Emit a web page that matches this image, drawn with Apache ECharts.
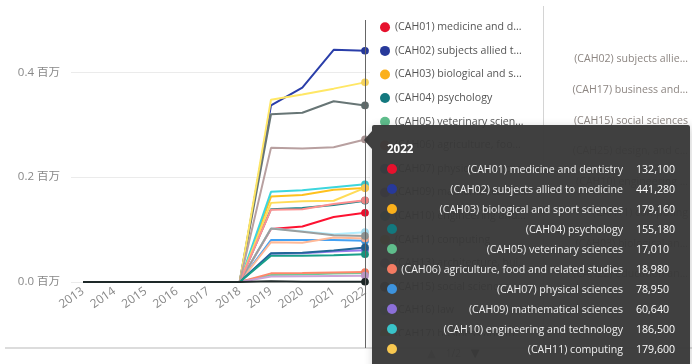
<!DOCTYPE html>
<html><head><meta charset="utf-8">
<script src="https://cdn.jsdelivr.net/npm/echarts@6/dist/echarts.min.js"></script>
<style>html,body{margin:0;padding:0;overflow:hidden;background:#fff}#c{width:692px;height:364px;overflow:hidden;position:relative}</style>
</head><body><div id="c"></div>
<script>
// ---------- data ----------
const years = ['2013','2014','2015','2016','2017','2018','2019','2020','2021','2022'];
const names = [
  '(CAH01) medicine and dentistry',
  '(CAH02) subjects allied to medicine',
  '(CAH03) biological and sport sciences',
  '(CAH04) psychology',
  '(CAH05) veterinary sciences',
  '(CAH06) agriculture, food and related studies',
  '(CAH07) physical sciences',
  '(CAH09) mathematical sciences',
  '(CAH10) engineering and technology',
  '(CAH11) computing',
  '(CAH13) architecture, building and planning',
  '(CAH15) social sciences',
  '(CAH16) law',
  '(CAH17) business and management',
  '(CAH19) language and area studies',
  '(CAH20) historical, philosophical and religious studies',
  '(CAH22) education and teaching',
  '(CAH23) combined and general studies',
  '(CAH24) media, journalism and communications',
  '(CAH25) design, and creative and performing arts',
  '(CAH26) geography, earth and environmental studies'
];
const cah01 = [0,0,0,0,0,0,101000,106000,124000,132100];
const cah02 = [0,0,0,0,0,0,337000,371000,443000,441280];
const cah03 = [0,0,0,0,0,0,163000,166000,176000,179160];
const cah04 = [0,0,0,0,0,0,139000,141000,147000,155180];
const cah05 = [0,0,0,0,0,0,13500,14500,16000,17010];
const cah06 = [0,0,0,0,0,0,16500,17000,18000,18980];
const cah07 = [0,0,0,0,0,0,80000,80000,80000,78950];
const cah09 = [0,0,0,0,0,0,54000,55000,58000,60640];
const cah10 = [0,0,0,0,0,0,172000,175000,181000,186500];
const cah11 = [0,0,0,0,0,0,151000,154000,155000,179600];
const cah13 = [0,0,0,0,0,0,10500,11000,11500,12000];
const cah15 = [0,0,0,0,0,0,320000,323000,345000,337000];
const cah16 = [0,0,0,0,0,0,102000,97000,91000,95000];
const cah17 = [0,0,0,0,0,0,348000,358000,369000,381000];
const cah19 = [0,0,0,0,0,0,76000,75000,85000,83000];
const cah20 = [0,0,0,0,0,0,102000,96000,89000,88000];
const cah22 = [0,0,0,0,0,0,138000,139000,149000,156000];
const cah23 = [0,0,0,0,0,0,1500,300,300,500];
const cah24 = [0,0,0,0,0,0,55000,56000,60000,66000];
const cah25 = [0,0,0,0,0,0,256000,255000,257000,272000];
const cah26 = [0,0,0,0,0,0,50000,50000,51000,53000];
const values = [cah01,cah02,cah03,cah04,cah05,cah06,cah07,cah09,cah10,cah11,cah13,cah15,cah16,cah17,cah19,cah20,cah22,cah23,cah24,cah25,cah26];
const yTicks = [0, 200000, 400000];

// ---------- styles ----------
const colors = ['#e6112d','#27399a','#fbb01b','#13787e','#5fbd8c','#f47b62','#3d93dd','#8b6fd8','#39c3c9','#f8c850',
  '#b995c4','#5e6b6b','#a3d9ec','#f5d25c','#f8a98b','#8c9191','#f08484','#1c2626','#1f5d8c','#a89292','#16917d'];
const FONT = '"Open Sans", "Noto Sans CJK SC", sans-serif';
const TIP_BG = 'rgba(56,56,56,0.96)';

const chart = echarts.init(document.getElementById('c'));

const lineSeries = names.map((n, i) => ({
  name: n, type: 'line', data: values[i], xAxisIndex: 0, yAxisIndex: 0,
  showSymbol: false, symbol: 'circle', symbolSize: 7,
  lineStyle: { width: 2, color: colors[i] }, itemStyle: { color: colors[i] },
  z: n.indexOf('CAH23') >= 0 ? 4 : 2
}));

const last = years.length - 1;
const ranked = names.map((n, i) => ({ name: n, value: values[i][last], color: colors[i] }))
  .sort((a, b) => b.value - a.value).slice(0, 8);

const option = {
  animation: false,
  textStyle: { fontFamily: FONT },
  color: colors,
  grid: [
    { left: 83, right: 327, top: 20, height: 262 },          // main plot
    { left: 83, right: 327, top: 20, bottom: 16 },           // pointer extension
    { left: 693, width: 220, top: 44, height: 245.6 },       // right ranking (mostly off-screen)
    { left: 71, right: 322, top: 20, height: 262 }           // background grid lines
  ],
  xAxis: [
    { type: 'category', gridIndex: 0, data: years, boundaryGap: false,
      axisLine: { show: false }, axisTick: { show: false },
      axisLabel: { rotate: 35, color: '#888', fontSize: 12, margin: 8, interval: 0 } },
    { type: 'category', gridIndex: 1, data: years, boundaryGap: false,
      axisLine: { show: false }, axisTick: { show: false }, axisLabel: { show: false }, splitLine: { show: false } },
    { type: 'value', gridIndex: 2, min: 0, axisPointer: { show: false },
      axisLine: { show: false }, axisTick: { show: false }, splitLine: { show: false },
      axisLabel: { color: '#999', fontSize: 10.6, margin: 0, formatter: v => (v / 1e6).toFixed(1) } },
    { type: 'value', gridIndex: 3, show: false, axisPointer: { show: false } }
  ],
  yAxis: [
    { type: 'value', gridIndex: 0, min: 0, max: 500000, interval: 200000,
      axisLine: { show: false }, axisTick: { show: false }, splitLine: { show: false },
      axisLabel: { color: '#888', fontSize: 11.5, margin: 23, showMaxLabel: false,
        formatter: v => yTicks.indexOf(v) >= 0 ? (v / 1e6).toFixed(1) + ' 百万' : '' } },
    { type: 'value', gridIndex: 1, show: false },
    { type: 'category', gridIndex: 2, inverse: true, data: ranked.map(r => r.name), axisPointer: { show: false },
      axisLine: { show: false }, axisTick: { show: false },
      axisLabel: { color: '#8d8682', fontSize: 10.6, margin: 5, width: 118, overflow: 'truncate' } },
    { type: 'value', gridIndex: 3, min: 0, max: 500000, interval: 200000,
      axisLine: { show: false }, axisTick: { show: false }, axisLabel: { show: false },
      splitLine: { show: true, showMaxLine: false, lineStyle: { color: '#ebebeb', width: 1 } } }
  ],
  axisPointer: { link: [{ xAxisIndex: [0, 1] }] },
  legend: {
    type: 'scroll', orient: 'vertical', left: 375, top: 17, bottom: 44,
    itemWidth: 10, itemHeight: 14, itemGap: 13, icon: 'circle',
    data: names,
    textStyle: { color: '#555', fontSize: 10.6, width: 133, overflow: 'truncate', fontFamily: FONT },
    pageIconSize: 9, pageIconColor: '#555', pageIconInactiveColor: '#aaa',
    pageTextStyle: { color: '#888', fontSize: 10 }
  },
  tooltip: {
    trigger: 'axis', triggerOn: 'none', alwaysShowContent: true, transitionDuration: 0,
    position: [372, 125], backgroundColor: TIP_BG, borderWidth: 0, borderRadius: 2,
    padding: [15, 10, 14, 15],
    textStyle: { color: '#f0f0f0', fontFamily: FONT, fontSize: 10.6 },
    axisPointer: { type: 'line', lineStyle: { color: '#666', width: 1, type: 'solid' }, animation: false },
    formatter: function (params) {
      let h = '<div style="position:absolute;left:-8px;top:6px;width:0;height:0;border-top:9px solid transparent;border-bottom:9px solid transparent;border-right:8px solid ' + TIP_BG + ';"></div>';
      h += '<div style="height:19px;line-height:18px;font-weight:bold;font-size:11.5px;color:#fff;">' + params[0].axisValue + '</div>';
      params.forEach(p => {
        h += '<div style="display:flex;align-items:center;height:20px;line-height:20px;white-space:nowrap;">'
          + '<span style="display:inline-block;flex:none;width:10px;height:10px;border-radius:50%;background:' + p.color + ';"></span>'
          + '<span style="display:inline-block;flex:none;width:226px;text-align:right;">' + p.seriesName + '</span>'
          + '<span style="display:inline-block;flex:none;margin-left:13px;width:44px;color:#fff;">' + Number(p.value).toLocaleString('en-US') + '</span></div>';
      });
      return h;
    }
  },
  graphic: [
    { type: 'line', silent: true, z: 0, shape: { x1: 5, y1: 348, x2: 692, y2: 348 }, style: { stroke: '#dcdcdc', lineWidth: 2 } },
    { type: 'line', silent: true, z: 0, shape: { x1: 543.5, y1: 6, x2: 543.5, y2: 348 }, style: { stroke: '#d4d4d4', lineWidth: 1 } }
  ],
  series: lineSeries.concat([
    { type: 'bar', xAxisIndex: 2, yAxisIndex: 2, barWidth: 14,
      data: ranked.map(r => ({ value: r.value, itemStyle: { color: r.color } })) }
  ])
};

chart.setOption(option);
chart.dispatchAction({ type: 'showTip', seriesIndex: 0, dataIndex: last });
</script></body></html>
